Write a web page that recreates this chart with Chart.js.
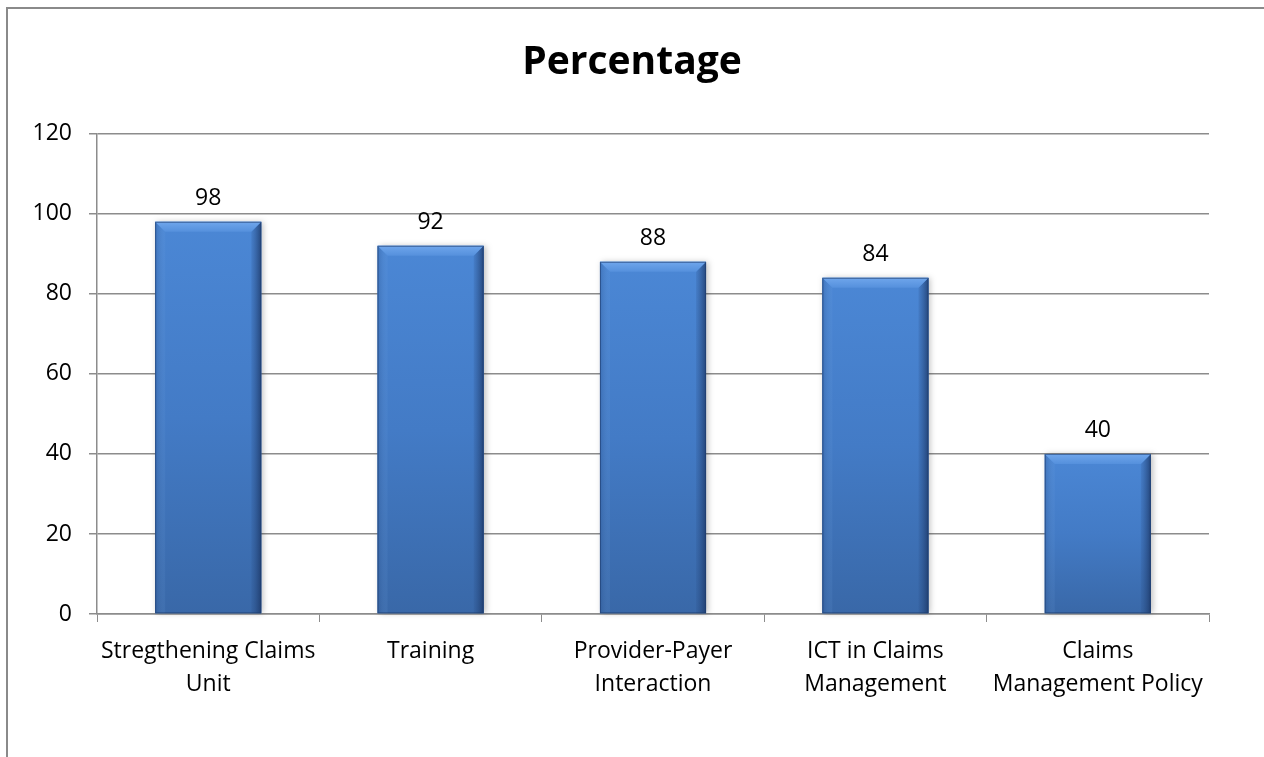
<!DOCTYPE html>
<html>
<head>
<meta charset="utf-8">
<script src="https://cdn.jsdelivr.net/npm/chart.js@4.4.1/dist/chart.umd.min.js"></script>
<style>
  body { margin: 0; background: #fff; overflow: hidden; }
  #frame { position: absolute; left: 6px; top: 7px; width: 3000px; height: 3000px; border: 2px solid #8a8a8a; }
  #wrap { position: absolute; left: 0; top: 0; width: 1264px; height: 757px; }
</style>
</head>
<body>
<div id="frame"></div>
<div id="wrap"><canvas id="chart" width="1264" height="757"></canvas></div>
<script>
var categorias = [
  ['Stregthening Claims', 'Unit'],
  'Training',
  ['Provider-Payer', 'Interaction'],
  ['ICT in Claims', 'Management'],
  ['Claims', 'Management Policy']
];
var valores = [98, 92, 88, 84, 40];
var tickY = [0, 20, 40, 60, 80, 100, 120];

var fonte = "'Open Sans', sans-serif";
var cinza = '#8c8c8c';

// bisel estilo Excel por cima das barras
var biselPlugin = {
  id: 'bisel',
  afterDatasetsDraw: function (chart) {
    var ctx = chart.ctx;
    var meta = chart.getDatasetMeta(0);
    meta.data.forEach(function (bar) {
      var L = bar.x - bar.width / 2, R = bar.x + bar.width / 2;
      var T = bar.y, B = bar.base, b = 10;
      ctx.save();
      // sombra leve
      ctx.shadowColor = 'rgba(0,0,0,0.25)';
      ctx.shadowBlur = 6;
      ctx.shadowOffsetX = 2;
      var g = ctx.createLinearGradient(0, T, 0, B);
      g.addColorStop(0, '#4b87d5');
      g.addColorStop(0.5, '#437bc6');
      g.addColorStop(1, '#3968a8');
      ctx.fillStyle = g;
      ctx.fillRect(L, T, R - L, B - T);
      ctx.shadowColor = 'transparent';
      // lado direito escuro
      ctx.beginPath();
      ctx.moveTo(R, T); ctx.lineTo(R - b, T + b); ctx.lineTo(R - b, B); ctx.lineTo(R, B); ctx.closePath();
      var gr = ctx.createLinearGradient(R - b, 0, R, 0);
      gr.addColorStop(0, 'rgba(40,75,130,0.15)');
      gr.addColorStop(1, 'rgba(25,50,95,0.75)');
      ctx.fillStyle = gr; ctx.fill();
      // lado esquerdo
      ctx.beginPath();
      ctx.moveTo(L, T); ctx.lineTo(L + b, T + b); ctx.lineTo(L + b, B); ctx.lineTo(L, B); ctx.closePath();
      var gl = ctx.createLinearGradient(L, 0, L + b, 0);
      gl.addColorStop(0, 'rgba(40,80,140,0.35)');
      gl.addColorStop(1, 'rgba(120,170,230,0.10)');
      ctx.fillStyle = gl; ctx.fill();
      // topo claro
      ctx.beginPath();
      ctx.moveTo(L, T); ctx.lineTo(R, T); ctx.lineTo(R - b, T + b); ctx.lineTo(L + b, T + b); ctx.closePath();
      var gt = ctx.createLinearGradient(0, T, 0, T + b);
      gt.addColorStop(0, '#6fa6ec');
      gt.addColorStop(1, '#5590dc');
      ctx.fillStyle = gt; ctx.fill();
      // contorno
      ctx.strokeStyle = 'rgba(30,60,110,0.6)';
      ctx.lineWidth = 1;
      ctx.strokeRect(L + 0.5, T + 0.5, R - L - 1, B - T - 1);
      ctx.restore();
    });
  }
};

// valores acima das barras
var rotulosPlugin = {
  id: 'rotulos',
  afterDatasetsDraw: function (chart) {
    var ctx = chart.ctx;
    var meta = chart.getDatasetMeta(0);
    ctx.save();
    ctx.font = '23px ' + fonte;
    ctx.fillStyle = '#000';
    ctx.textAlign = 'center';
    ctx.textBaseline = 'alphabetic';
    meta.data.forEach(function (bar, i) {
      ctx.fillText(valores[i], bar.x, bar.y - 17);
    });
    ctx.restore();
  }
};

var ctx = document.getElementById('chart').getContext('2d');
var chart = new Chart(ctx, {
  type: 'bar',
  data: {
    labels: categorias,
    datasets: [{
      label: 'Percentage',
      data: valores,
      backgroundColor: '#437bc6',
      borderWidth: 0,
      barPercentage: 0.477,
      categoryPercentage: 1
    }]
  },
  options: {
    responsive: false,
    animation: false,
    layout: { padding: 0 },
    plugins: {
      legend: { display: false },
      tooltip: { enabled: false },
      title: {
        display: true,
        text: 'Percentage',
        color: '#000',
        font: { family: fonte, size: 39, weight: 'bold', lineHeight: 1.2 },
        padding: { top: 39, bottom: 48 }
      }
    },
    scales: {
      x: {
        grid: { display: true, drawOnChartArea: false, drawTicks: true, tickLength: 8, color: cinza, offset: true },
        border: { display: true, color: cinza, width: 1.5 },
        ticks: { color: '#000', font: { family: fonte, size: 23, lineHeight: 1.42 }, padding: 13, maxRotation: 0, autoSkip: false },
        afterFit: function (scale) { scale.height = 143; }
      },
      y: {
        min: 0,
        max: 120,
        afterBuildTicks: function (scale) {
          scale.ticks = tickY.map(function (v) { return { value: v }; });
        },
        grid: { color: cinza, lineWidth: 1.5, tickLength: 8 },
        border: { display: true, color: cinza, width: 1.5 },
        ticks: { color: '#000', font: { family: fonte, size: 23 }, padding: 17 },
        afterFit: function (scale) { scale.width = 97; }
      },
      // eixo vazio so pra reservar a margem da direita
      margemDir: {
        type: 'linear',
        position: 'right',
        display: true,
        grid: { display: false },
        border: { display: false },
        ticks: { display: false },
        afterFit: function (scale) { scale.width = 55; }
      }
    }
  },
  plugins: [biselPlugin, rotulosPlugin]
});
</script>
</body>
</html>
